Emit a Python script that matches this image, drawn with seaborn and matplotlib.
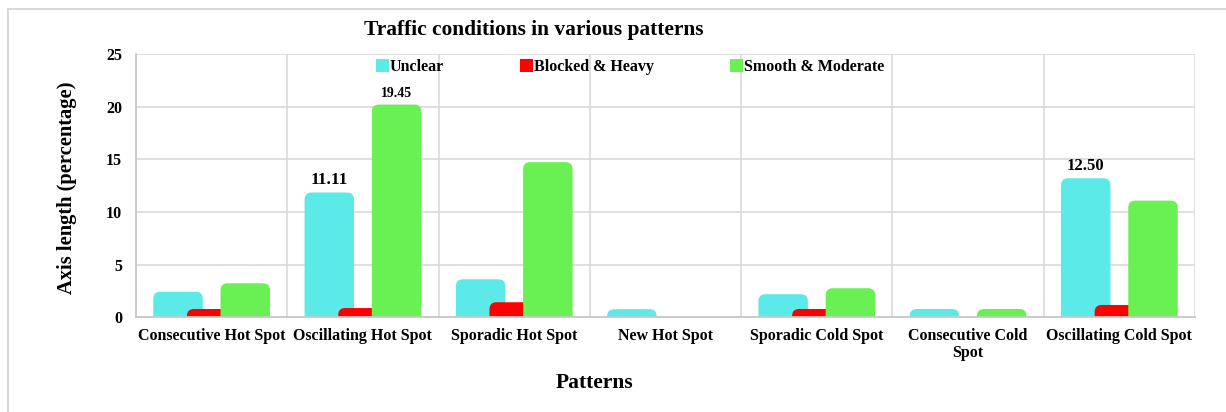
import pandas as pd
import matplotlib.pyplot as plt
import seaborn as sns
from matplotlib.patches import FancyBboxPatch, Patch, Rectangle

# values (bar heights, percent)
patterns = ["Consecutive Hot Spot", "Oscillating Hot Spot", "Sporadic Hot Spot",
            "New Hot Spot", "Sporadic Cold Spot", "Consecutive Cold\nSpot",
            "Oscillating Cold Spot"]
conditions = ["Unclear", "Blocked & Heavy", "Smooth & Moderate"]
unclear = [2.43, 11.85, 3.61, 0.77, 2.19, 0.79, 13.2]
blocked = [0.79, 0.88, 1.43, 0.0, 0.79, 0.0, 1.17]
smooth = [3.23, 20.2, 14.73, 0.0, 2.76, 0.79, 11.08]
colors = ["#5BEAE8", "#FF0000", "#69F052"]

# labels printed above some bars: (pattern index, condition index, text, size)
bar_labels = [(1, 0, "11.11", 12.5), (1, 2, "19.45", 10), (6, 0, "12.50", 12)]

df = pd.DataFrame({
    "pattern": patterns * 3,
    "condition": [c for c in conditions for _ in patterns],
    "value": unclear + blocked + smooth,
})

sns.set_style("white")
plt.rcParams["font.family"] = ["Liberation Serif", "DejaVu Serif"]
plt.rcParams["font.weight"] = "bold"
for k in ["text.color", "axes.labelcolor", "xtick.color", "ytick.color"]:
    plt.rcParams[k] = "black"

W, H = 1226, 412
fig = plt.figure(figsize=(W / 100, H / 100), dpi=100)
ax = fig.add_axes([136 / W, 1 - 317.3 / H, (1195 - 136) / W, (317.3 - 54) / H])

sns.barplot(data=df, x="pattern", y="value", hue="condition", palette=colors,
            saturation=1, width=0.667, dodge=True, legend=False, ax=ax,
            zorder=2)

ax.set_xlim(-0.5, 6.5)
ax.set_ylim(0, 25)
ax.set_yticks(range(0, 26, 5))

# swap the plain rectangles for rounded ones (wider, overlapping like the original)
bar_w = 0.327
px_x = (1195 - 136) / 7.0
px_y = (317.3 - 54) / 25.0
tops = {}
old = list(ax.patches)
for p in old:
    cx = p.get_x() + p.get_width() / 2
    h = p.get_height()
    fc = p.get_facecolor()
    p.remove()
    cat = int(round(cx))
    hue = int(round((cx - cat) / 0.222)) + 1
    tops[(cat, hue)] = (cx, h)
    if h <= 0:
        continue
    r = 7 / px_x
    extra = 1.0
    fb = FancyBboxPatch((cx - bar_w / 2, -extra), bar_w, h + extra,
                        boxstyle=f"round,pad=0,rounding_size={r}",
                        mutation_aspect=px_x / px_y, facecolor=fc,
                        edgecolor="none", zorder=2 + hue * 0.1)
    ax.add_patch(fb)

for cat, hue, txt, size in bar_labels:
    cx, h = tops[(cat, hue)]
    ax.annotate(txt, (cx, h), xytext=(0, 3), textcoords="offset points",
                ha="center", va="bottom", fontsize=size, fontweight="bold")

# grid: horizontal at ticks, vertical between categories
ax.set_xticks([i - 0.5 for i in range(8)], minor=True)
ax.grid(axis="y", which="major", color="#D9D9D9", lw=1.2, zorder=0)
ax.grid(axis="x", which="minor", color="#D9D9D9", lw=1.2, zorder=0)
ax.grid(axis="x", which="major", visible=False)
ax.set_axisbelow(True)
for s in ["top", "right"]:
    ax.spines[s].set_visible(False)
for s in ["left", "bottom"]:
    ax.spines[s].set_color("#C8C8C8")
    ax.spines[s].set_linewidth(1.3)
    ax.spines[s].set_zorder(5)

ax.tick_params(axis="both", which="both", length=0)
ax.tick_params(axis="y", pad=10, labelsize=11.5)
ax.tick_params(axis="x", pad=8, labelsize=11.5)
for t in ax.get_xticklabels() + ax.get_yticklabels():
    t.set_fontweight("bold")
    t.set_linespacing(1.05)
ax.set_xlabel("")
ax.set_ylabel("")

fig.text(67 / W, 1 - 188 / H, "Axis length (percentage)", rotation=90,
         ha="center", va="center", fontsize=14.8, fontweight="bold")
fig.text(595 / W, 1 - 383 / H, "Patterns", ha="center", va="center",
         fontsize=15.5, fontweight="bold")
fig.text(534 / W, 1 - 30 / H, "Traffic conditions in various patterns",
         ha="center", va="center", fontsize=15.4, fontweight="bold")

handles = [Patch(facecolor=c, edgecolor="none") for c in colors]
fig.legend(handles, conditions, loc="center left",
           bbox_to_anchor=(376 / W, 1 - 67 / H), ncol=3, frameon=False,
           borderpad=0, borderaxespad=0, handlelength=0.82, handleheight=0.82,
           handletextpad=0.05, columnspacing=4.75,
           prop={"size": 11.5, "weight": "bold"})

# light frame around the whole chart
fig.add_artist(Rectangle((8 / W, -0.5), 2, 1 - 9 / H + 0.5, fill=False,
                         edgecolor="#D9D9D9", lw=1.5, transform=fig.transFigure,
                         clip_on=False))

fig.savefig("out.png", dpi=100)
